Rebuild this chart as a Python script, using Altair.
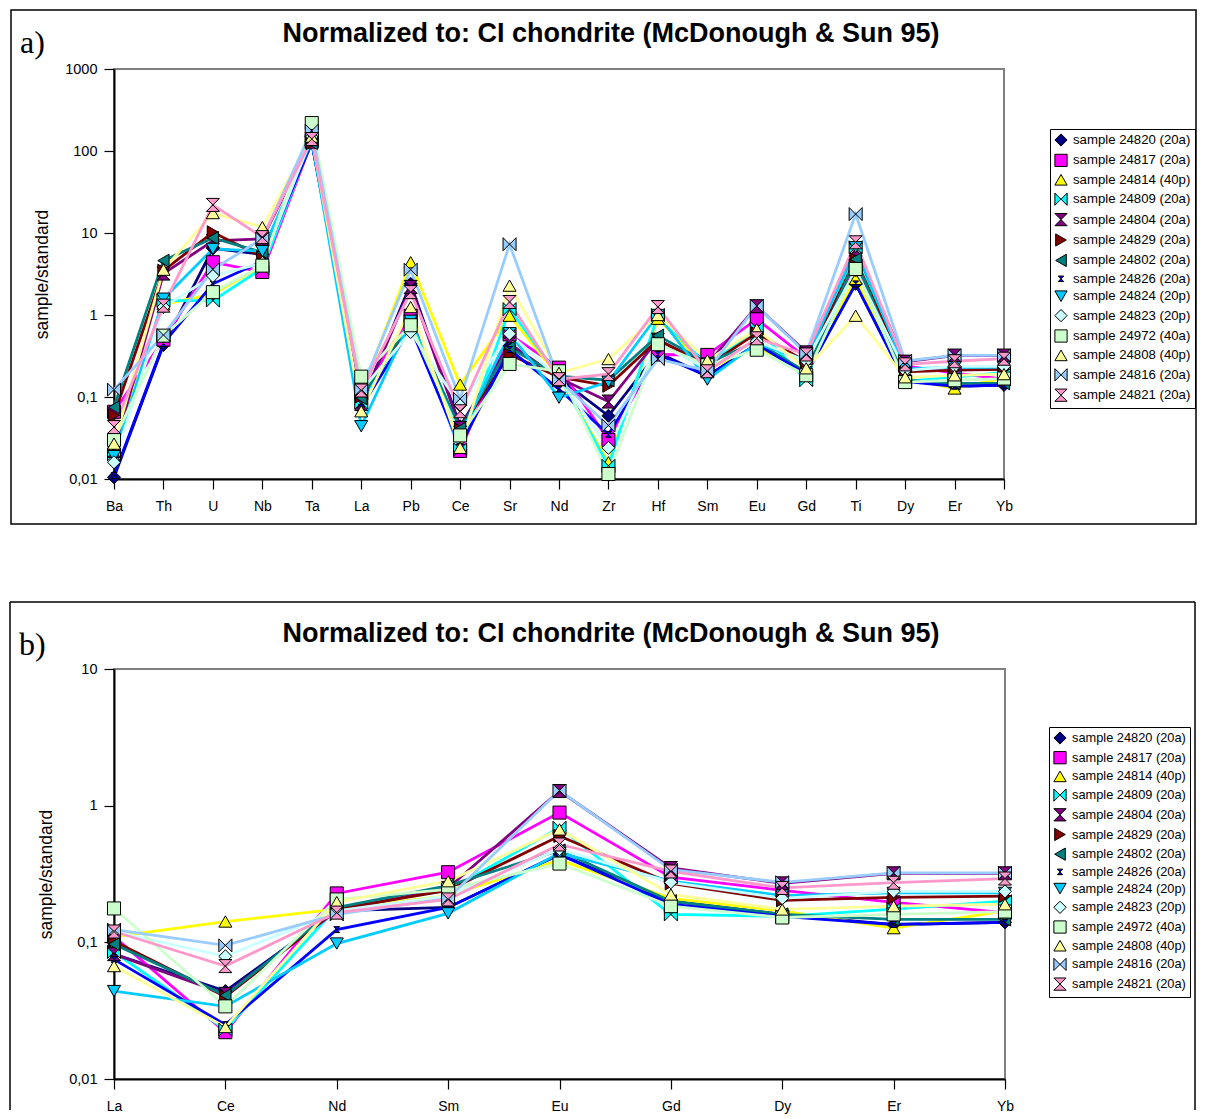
import altair as alt
import pandas as pd

# ---------------- data ----------------
samples = [
    "sample 24820 (20a)", "sample 24817 (20a)", "sample 24814 (40p)",
    "sample 24809 (20a)", "sample 24804 (20a)", "sample 24829 (20a)",
    "sample 24802 (20a)", "sample 24826 (20a)", "sample 24824 (20p)",
    "sample 24823 (20p)", "sample 24972 (40a)", "sample 24808 (40p)",
    "sample 24816 (20a)", "sample 24821 (20a)",
]
colors = ["#000080", "#FF00FF", "#FFFF00", "#00FFFF", "#800080", "#800000",
          "#008080", "#0000FF", "#00CCFF", "#CCFFFF", "#CCFFCC", "#FFFF99",
          "#99CCFF", "#FF99CC"]
BOWTIE = "M-1,-1L1,1L1,-1L-1,1Z"
HOURGLASS = "M-1,-1L1,-1L-1,1L1,1Z"
SMALL_HOURGLASS = "M-0.45,-0.45L0.45,-0.45L-0.45,0.45L0.45,0.45Z"
shapes = ["diamond", "square", "triangle-up", BOWTIE, HOURGLASS,
          "triangle-right", "triangle-left", SMALL_HOURGLASS, "triangle-down",
          "diamond", "square", "triangle-up", BOWTIE, HOURGLASS]

elements = ["Ba", "Th", "U", "Nb", "Ta", "La", "Pb", "Ce", "Sr", "Nd",
            "Zr", "Hf", "Sm", "Eu", "Gd", "Ti", "Dy", "Er", "Yb"]
ree = ["La", "Ce", "Nd", "Sm", "Eu", "Gd", "Dy", "Er", "Yb"]

#            Ba      Th    U     Nb    Ta   La     Pb    Ce     Sr    Nd     Zr      Hf    Sm     Eu    Gd     Ti    Dy     Er     Yb
s24820 = [0.0105, 0.43, 6.5,  5.5,  130, 0.082, 2.4,  0.044, 0.42, 0.17,  0.059,  0.35, 0.18,  0.44, 0.20,  2.4,  0.16,  0.135, 0.14]
s24817 = [0.066,  0.50, 4.4,  3.35, 130, 0.11,  0.98, 0.022, 0.58, 0.228, 0.030,  0.33, 0.326, 0.89, 0.30,  4.0,  0.24,  0.196, 0.165]
s24814 = [0.0245, 1.35, 1.8,  4.0,  140, 0.11,  4.4,  0.142, 0.98, 0.175, 0.016,  0.90, 0.22,  0.40, 0.21,  2.75, 0.17,  0.127, 0.17]
s24809 = [0.020,  1.50, 1.5,  3.7,  135, 0.085, 0.85, 0.023, 1.18, 0.18,  0.0145, 1.00, 0.24,  0.69, 0.16,  6.7,  0.155, 0.175, 0.20]
s24804 = [0.022,  3.20, 8.0,  8.5,  140, 0.082, 2.2,  0.042, 0.45, 0.17,  0.088,  0.50, 0.25,  1.28, 0.35,  6.3,  0.27,  0.32,  0.32]
s24829 = [0.060,  3.47, 10.2, 5.1,  125, 0.102, 0.74, 0.040, 0.33, 0.175, 0.137,  0.50, 0.24,  0.60, 0.27,  4.8,  0.203, 0.213, 0.218]
s24802 = [0.075,  4.60, 8.7,  5.8,  125, 0.097, 0.85, 0.041, 0.40, 0.18,  0.16,   0.56, 0.26,  0.47, 0.20,  4.8,  0.16,  0.147, 0.147]
s24826 = [0.011,  0.45, 2.4,  4.5,  130, 0.075, 0.70, 0.025, 0.38, 0.124, 0.035,  0.33, 0.18,  0.44, 0.19,  2.4,  0.155, 0.135, 0.14]
s24824 = [0.019,  1.58, 6.4,  6.0,  135, 0.044, 0.85, 0.034, 0.60, 0.098, 0.153,  1.00, 0.163, 0.45, 0.28,  6.7,  0.22,  0.23,  0.23]
s24823 = [0.016,  1.25, 3.0,  4.3,  150, 0.12,  0.62, 0.079, 0.59, 0.17,  0.024,  0.45, 0.22,  0.48, 0.275, 3.5,  0.21,  0.236, 0.236]
s24972 = [0.030,  0.56, 1.9,  4.0,  219, 0.177, 0.75, 0.034, 0.253, 0.206, 0.0115, 0.44, 0.244, 0.377, 0.184, 3.64, 0.152, 0.16, 0.168]
s24808 = [0.027,  3.57, 17.5, 11.8, 150, 0.067, 1.25, 0.024, 2.28, 0.197, 0.29,   1.00, 0.28,  0.67, 0.224, 0.98, 0.174, 0.184, 0.19]
s24816 = [0.123,  0.57, 3.6,  8.5,  177, 0.124, 3.57, 0.095, 7.3,  0.16,  0.045,  0.29, 0.21,  1.29, 0.34,  17.0, 0.275, 0.322, 0.322]
s24821 = [0.043,  1.30, 22.0, 8.9,  140, 0.12,  1.90, 0.067, 1.44, 0.165, 0.19,   1.25, 0.206, 0.52, 0.33,  7.7,  0.25,  0.273, 0.293]

series = [s24820, s24817, s24814, s24809, s24804, s24829, s24802,
          s24826, s24824, s24823, s24972, s24808, s24816, s24821]

FONT = "Liberation Sans"


def build_df(elems):
    rows = []
    for si, (name, vals) in enumerate(zip(samples, series)):
        for ei, el in enumerate(elems):
            rows.append({"sample": name, "element": el, "idx": ei, "si": si,
                         "hex": colors[si], "value": vals[elements.index(el)]})
    return pd.DataFrame(rows)


def panel(elems, ydomain, yvalues, leg, label, box, title_xy,
          label_xy, full_box, width, height):
    df = build_df(elems)
    one = pd.DataFrame({"k": [0]})

    x = alt.X("element:N", sort=elems, scale=alt.Scale(padding=0),
              axis=alt.Axis(title=None, labelAngle=0, labelFont=FONT, labelFontSize=14,
                            labelColor="black", tickColor="black", tickSize=10,
                            tickWidth=1.2, domainColor="black", domainWidth=2,
                            labelPadding=10, grid=False))
    y = alt.Y("value:Q",
              scale=alt.Scale(type="log", domain=ydomain, nice=False),
              axis=alt.Axis(title="sample/standard", values=yvalues,
                            labelExpr="replace(toString(datum.value), '.', ',')",
                            labelFont=FONT, labelFontSize=14.5, labelColor="black",
                            tickColor="black", tickSize=10, tickWidth=1.2,
                            domainColor="black", domainWidth=2, labelPadding=7,
                            titleFont=FONT, titleFontSize=17.5, titleFontWeight="normal",
                            titleColor="black", titlePadding=13, grid=False))

    lines = alt.Chart(df).mark_line(strokeWidth=2.8).encode(
        x=x, y=y,
        stroke=alt.Stroke("hex:N", scale=None),
        detail="sample:N",
        order=alt.Order("idx:Q"),
    )

    points = alt.Chart(df).mark_point(filled=True, opacity=1, size=170, strokeWidth=1,
                                      stroke="black").encode(
        x=x, y=y,
        color=alt.Color("sample:N", scale=alt.Scale(domain=samples, range=colors), legend=leg),
        shape=alt.Shape("sample:N", scale=alt.Scale(domain=samples, range=shapes), legend=leg),
    )

    title = alt.Chart(one).mark_text(
        text="Normalized to: CI chondrite (McDonough & Sun 95)", font=FONT,
        fontSize=27, fontWeight="bold", align="center", baseline="middle", color="black"
    ).encode(x=alt.value(title_xy[0]), y=alt.value(title_xy[1]))

    lab = alt.Chart(one).mark_text(
        text=label, font="Liberation Serif", fontSize=32, align="left",
        baseline="alphabetic", color="black"
    ).encode(x=alt.value(label_xy[0]), y=alt.value(label_xy[1]))

    bx0, by0, bx1, by1 = box
    if full_box:
        frame = [alt.Chart(one).mark_rect(fillOpacity=0, stroke="black", strokeWidth=1.5).encode(
            x=alt.value(bx0), x2=alt.value(bx1), y=alt.value(by0), y2=alt.value(by1))]
    else:
        frame = [
            alt.Chart(one).mark_rule(color="black", strokeWidth=1.5).encode(
                x=alt.value(bx0), y=alt.value(by0), y2=alt.value(by1)),
            alt.Chart(one).mark_rule(color="black", strokeWidth=1.5).encode(
                x=alt.value(bx1), y=alt.value(by0), y2=alt.value(by1)),
            alt.Chart(one).mark_rule(color="black", strokeWidth=1.5).encode(
                x=alt.value(bx0), x2=alt.value(bx1), y=alt.value(by0)),
        ]

    return alt.layer(*frame, lines, points, title, lab).properties(width=width, height=height)


def make_legend(lx, ly, fsize, rpad):
    return alt.Legend(orient="none", legendX=lx, legendY=ly, title=None,
                      strokeColor="black", padding=4, labelFont=FONT,
                      labelFontSize=fsize, labelColor="black", labelOffset=5,
                      rowPadding=rpad, symbolStrokeColor="black",
                      symbolStrokeWidth=1, symbolSize=150)


top = panel(elements, [0.01, 1000], [0.01, 0.1, 1, 10, 100, 1000],
            make_legend(936, 60, 13.2, 2.4), "a)",
            (-103, -59, 1082, 455), (497, -35), (-94, -16), True, 890, 410)
bottom = panel(ree, [0.01, 10], [0.01, 0.1, 1, 10],
               make_legend(935, 58, 12.8, 1.7), "b)",
               (-104, -67, 1081, 441), (497, -35), (-95, -14), False, 891, 410)

chart = alt.vconcat(top, bottom, spacing=74).resolve_scale(
    color="independent", shape="independent"
).resolve_legend(
    color="independent", shape="independent"
).properties(
    padding={"left": 0, "top": 0, "right": 0, "bottom": 0}
).configure_view(stroke="#808080", strokeWidth=2)

chart.save("out.html", embed_options={"renderer": "svg", "actions": False})
